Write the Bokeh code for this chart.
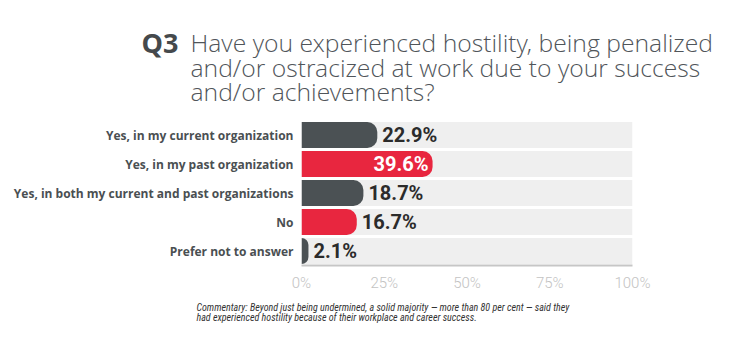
from bokeh.plotting import figure
from bokeh.layouts import column
from bokeh.models import Range1d, FactorRange, ColumnDataSource
from bokeh.core.properties import value
from bokeh.embed import file_html
from bokeh.resources import INLINE

categories = [
    "Yes, in my current organization",
    "Yes, in my past organization",
    "Yes, in both my current and past organizations",
    "No",
    "Prefer not to answer",
]
values = [22.9, 39.6, 18.7, 16.7, 2.1]
bar_colors = ["#4b5154", "#e8263f", "#4b5154", "#e8263f", "#4b5154"]
tick_values = [0, 25, 50, 75, 100]
tick_labels = {0: "0%", 25: "25%", 50: "50%", 75: "75%", 100: "100%"}

title_q = "Q3"
title_lines = [
    "Have you experienced hostility, being penalized",
    "and/or ostracized at work due to your success",
    "and/or achievements?",
]
footer_lines = [
    "Commentary: Beyond just being undermined, a solid majority \u2014 more than 80 per cent \u2014 said they",
    "had experienced hostility because of their workplace and career success.",
]

W = 749
TOP_H, MAIN_H, FOOT_H = 110, 185, 42


def blank(h):
    f = figure(width=W, height=h, x_range=Range1d(0, W), y_range=Range1d(0, h),
               output_backend="svg", toolbar_location=None, min_border=0,
               frame_align=False)
    f.axis.visible = False
    f.grid.visible = False
    f.outline_line_color = None
    f.background_fill_color = "white"
    f.border_fill_color = "white"
    return f


# ---- title ----
top = blank(TOP_H)
top.text(x=[141], y=[TOP_H - 42], text=[title_q],
         text_font=value("Open Sans"), text_font_style="bold", text_font_size="27px",
         text_color="#45494c", text_baseline="alphabetic")
top.text(x=[190] * 3, y=[TOP_H - 42, TOP_H - 66.5, TOP_H - 91], text=title_lines,
         text_font=value("Open Sans Light"), text_font_size="24.7px",
         text_color="#50555a", text_baseline="alphabetic")

# ---- main chart ----
p = figure(
    width=W, height=MAIN_H,
    x_range=Range1d(0, 100),
    y_range=FactorRange(*list(reversed(categories)), range_padding=0),
    output_backend="svg", toolbar_location=None,
    min_border_left=301, min_border_right=117,
    min_border_top=10, min_border_bottom=30,
    frame_align=False,
)
p.outline_line_color = None
p.background_fill_color = "white"
p.border_fill_color = "white"
p.grid.visible = False

src = ColumnDataSource(dict(
    cat=categories, val=values, color=bar_colors,
    full=[100] * len(values),
))
p.hbar(y="cat", left=0, right="full", height=0.9, source=src,
       fill_color="#efefef", line_color=None)
p.hbar(y="cat", left=0, right="val", height=0.9, source=src,
       fill_color="color", line_color=None, border_radius=(0, 10, 10, 0))

vmax = max(values)
outside = ColumnDataSource(dict(
    cat=[c for c, v in zip(categories, values) if v != vmax],
    val=[v for v in values if v != vmax],
    lab=[f"{v:.1f}%" for v in values if v != vmax],
))
inside = ColumnDataSource(dict(
    cat=[c for c, v in zip(categories, values) if v == vmax],
    val=[v for v in values if v == vmax],
    lab=[f"{v:.1f}%" for v in values if v == vmax],
))
p.text(x="val", y="cat", text="lab", source=outside, x_offset=5,
       text_font=value("Roboto"), text_font_style="bold", text_font_size="20px",
       text_color="#2b2b2b", text_baseline="middle", text_align="left")
p.text(x="val", y="cat", text="lab", source=inside, x_offset=-4,
       text_font=value("Roboto"), text_font_style="bold", text_font_size="20px",
       text_color="white", text_baseline="middle", text_align="right")

p.xaxis.ticker = tick_values
p.xaxis.major_label_overrides = tick_labels
p.xaxis.axis_line_color = "#c6c6c6"
p.xaxis.axis_line_width = 2
p.xaxis.major_tick_line_color = None
p.xaxis.minor_tick_line_color = None
p.xaxis.major_label_text_color = "#c3c3c3"
p.xaxis.major_label_text_font = "Roboto Light"
p.xaxis.major_label_text_font_size = "15px"
p.xaxis.major_label_standoff = 2

p.yaxis.axis_line_color = None
p.yaxis.major_tick_line_color = None
p.yaxis.minor_tick_line_color = None
p.yaxis.major_label_text_color = "#4a4f52"
p.yaxis.major_label_text_font = "Open Sans"
p.yaxis.major_label_text_font_style = "bold"
p.yaxis.major_label_text_font_size = "12px"
p.yaxis.major_label_standoff = 2

# ---- footer ----
foot = blank(FOOT_H)
foot.text(x=[196, 196], y=[FOOT_H - 12, FOOT_H - 22], text=footer_lines,
          text_font=value("Roboto Condensed"), text_font_style="italic", text_font_size="10px",
          text_color="#333333", text_baseline="alphabetic")

layout = column(top, p, foot, spacing=0)
open("out.html", "w").write(file_html(layout, INLINE))
